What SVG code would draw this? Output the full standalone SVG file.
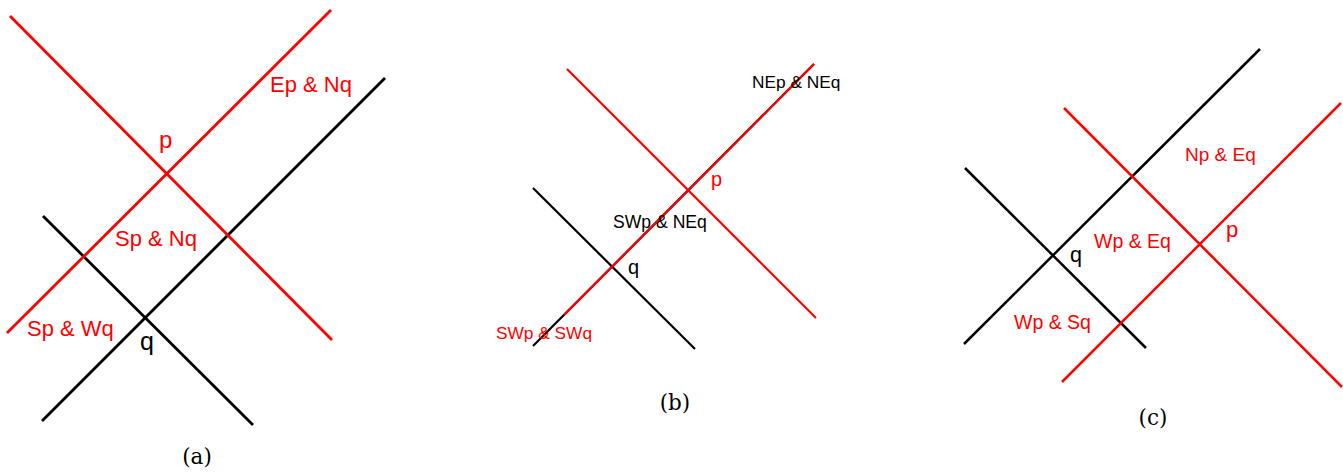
<svg xmlns="http://www.w3.org/2000/svg" width="1343" height="473" viewBox="0 0 1343 473">
<style>
.r{stroke:#ff0000;fill:none;stroke-linecap:butt}
.k{stroke:#000000;fill:none;stroke-linecap:butt}
.a{stroke-width:2.8}
.b{stroke-width:2.2}
.c{stroke-width:2.5}
text{font-family:"Liberation Sans",Arial,sans-serif}
.tr{fill:#ff0000}
.tk{fill:#000000}
.cap{font-family:"DejaVu Serif","Liberation Serif",serif;font-size:21.5px;fill:#000;text-anchor:middle}
</style>
<rect width="1343" height="473" fill="#ffffff"/>
<g id="connectors">
  <g id="lines-a">
    <line class="k a" x1="43" y1="216" x2="253" y2="425"/>
    <line class="k a" x1="42" y1="421" x2="385" y2="78"/>
    <line class="r a" x1="10" y1="16" x2="332" y2="340"/>
    <line class="r a" x1="7" y1="333" x2="331" y2="10"/>
  </g>
  <g id="lines-b">
    <line class="k b" x1="533" y1="188" x2="695" y2="349"/>
    <line class="k b" x1="533" y1="346" x2="814" y2="64"/>
    <line class="r b" x1="567" y1="69" x2="816" y2="318"/>
    <line class="r b" x1="564" y1="315" x2="814" y2="64"/>
  </g>
  <g id="lines-c">
    <line class="k c" x1="964" y1="344" x2="1260" y2="49"/>
    <line class="k c" x1="965" y1="168" x2="1146" y2="348"/>
    <line class="r c" x1="1064" y1="108" x2="1342" y2="387"/>
    <line class="r c" x1="1062" y1="382" x2="1341" y2="103"/>
  </g>
</g>
<g id="panel-a">
  <text class="tr" x="270" y="92" font-size="22">Ep &amp; Nq</text>
  <text class="tr" x="159" y="148" font-size="24">p</text>
  <text class="tr" x="115" y="246" font-size="22">Sp &amp; Nq</text>
  <text class="tr" x="27" y="336" font-size="22">Sp &amp; Wq</text>
  <text class="tk" x="140" y="350" font-size="25">q</text>
  <text class="cap" x="197" y="464">(a)</text>
</g>
<g id="panel-b">
  <text class="tk" x="752" y="88" font-size="17.3">NEp &amp; NEq</text>
  <text class="tr" x="711" y="186" font-size="20">p</text>
  <text class="tk" x="613" y="228" font-size="17.6">SWp &amp; NEq</text>
  <text class="tk" x="628" y="274" font-size="20">q</text>
  <text class="tr" x="496" y="339" font-size="17.3">SWp &amp; SWq</text>
  <text class="cap" x="675" y="410">(b)</text>
</g>
<g id="panel-c">
  <text class="tr" x="1185" y="161" font-size="19">Np &amp; Eq</text>
  <text class="tr" x="1226" y="237" font-size="22">p</text>
  <text class="tr" x="1094" y="248" font-size="19.5">Wp &amp; Eq</text>
  <text class="tk" x="1070" y="262" font-size="21.5">q</text>
  <text class="tr" x="1014" y="329" font-size="19.5">Wp &amp; Sq</text>
  <text class="cap" x="1153" y="425">(c)</text>
</g>
</svg>
